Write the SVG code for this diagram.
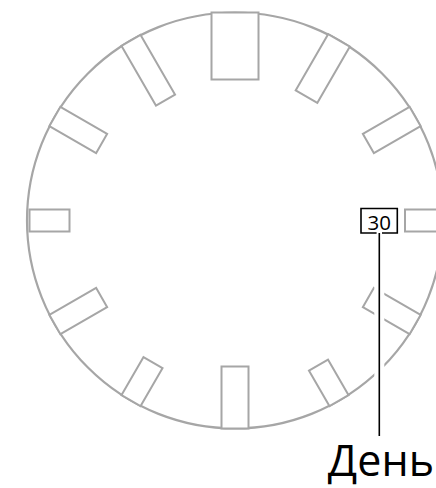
<svg xmlns="http://www.w3.org/2000/svg" width="436" height="488" viewBox="0 0 436 488">
<style>
.dial{fill:#fff;stroke:#a6a6a6;stroke-width:2.2}
.mark{fill:#fff;stroke:#a6a6a6;stroke-width:2}
.lead{stroke:#000;stroke-width:1.6;fill:none}
.halo{stroke:#fff;stroke-width:10;fill:none}
.t{font-family:"Open Sans","Noto Sans",sans-serif;fill:#000}
</style>
<rect width="436" height="488" fill="#fff"/>
<g id="dial">
<circle class="dial" cx="235" cy="220.5" r="208"/>
</g>
<g id="marks">
<rect id="h12" class="mark" x="211.5" y="12.5" width="47" height="67"/>
<rect id="h1" class="mark" x="222.5" y="12.5" width="25" height="65" transform="rotate(30 235 220.5)"/>
<rect id="h2" class="mark" x="224" y="12.5" width="22" height="54" transform="rotate(60 235 220.5)"/>
<rect id="h3" class="mark" x="224" y="12.5" width="22" height="38" transform="rotate(90 235 220.5)"/>
<rect id="h4" class="mark" x="224" y="12.5" width="22" height="54" transform="rotate(120 235 220.5)"/>
<rect id="h5" class="mark" x="224" y="12.5" width="22" height="41" transform="rotate(150 235 220.5)"/>
<rect id="h6" class="mark" x="221.5" y="12.5" width="27" height="62" transform="rotate(180 235 220.5)"/>
<rect id="h7" class="mark" x="224" y="12.5" width="22" height="44" transform="rotate(210 235 220.5)"/>
<rect id="h8" class="mark" x="224" y="12.5" width="22" height="54" transform="rotate(240 235 220.5)"/>
<rect id="h9" class="mark" x="224" y="15" width="22" height="40" transform="rotate(270 235 220.5)"/>
<rect id="h10" class="mark" x="224" y="12.5" width="22" height="54" transform="rotate(300 235 220.5)"/>
<rect id="h11" class="mark" x="224" y="12.5" width="22" height="69" transform="rotate(330 235 220.5)"/>
</g>
<g id="connectors">
<line class="halo" x1="379.3" y1="236" x2="379.3" y2="436"/>
<line class="lead" x1="379.3" y1="233" x2="379.3" y2="436"/>
</g>
<g id="day-box">
<path d="M376.6 233 H361 V208.5 H397.3 V233 H382" fill="none" stroke="#000" stroke-width="1.6"/>
<text class="t" x="379.2" y="229.5" font-size="20.5" text-anchor="middle">30</text>
</g>
<g id="label">
<text class="t" x="434" y="476" font-size="43" text-anchor="end">День</text>
</g>
</svg>
